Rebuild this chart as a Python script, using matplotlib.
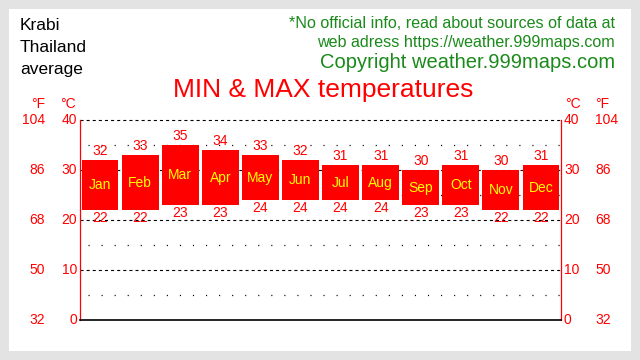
import numpy as np
import matplotlib
matplotlib.use("Agg")
import matplotlib.pyplot as plt
from matplotlib.patches import Rectangle
from matplotlib import transforms

plt.rcParams['font.family'] = ['Liberation Sans', 'DejaVu Sans']
plt.rcParams['lines.scale_dashes'] = False

months = ["Jan", "Feb", "Mar", "Apr", "May", "Jun",
          "Jul", "Aug", "Sep", "Oct", "Nov", "Dec"]
t_max = [32, 33, 35, 34, 33, 32, 31, 31, 30, 31, 30, 31]
t_min = [22, 22, 23, 23, 24, 24, 24, 24, 23, 23, 22, 22]
c_ticks = [0, 10, 20, 30, 40]
f_ticks = [32, 50, 68, 86, 104]
dotted_levels = [5, 15, 25, 35]

RED = '#ff0000'
GREEN = '#1a8a1a'

W, H = 640, 360
fig = plt.figure(figsize=(6.4, 3.6), dpi=100, facecolor='#e3e3e3')
fig.patches.append(Rectangle((9 / W, 9 / H), 622 / W, 342 / H,
                             transform=fig.transFigure, facecolor='white',
                             edgecolor='none', zorder=-5))

def fx(px):
    return px / W

def fy(py):
    return 1 - py / H

ax = fig.add_axes([fx(80), fy(320), (561 - 80) / W, (320 - 120.5) / H])
ax.set_facecolor('none')
ax.set_xlim(0, 12)
ax.set_ylim(0, 40)
ax.set_xticks([])
ax.set_yticks([])
for s in ['left', 'right']:
    ax.spines[s].set_color(RED)
    ax.spines[s].set_linewidth(0.9)
ax.spines['bottom'].set_color('black')
ax.spines['bottom'].set_linewidth(1.2)
ax.spines['top'].set_visible(False)

# grid lines
for lv in c_ticks[1:]:
    ax.axhline(lv, color='black', lw=0.8, dashes=(2.2, 2.2), zorder=1, clip_on=False)
for lv in dotted_levels:
    ax.plot([0.2, 12], [lv, lv], color='black', lw=0.9, dashes=(0.8, 8.6), zorder=1)

x = np.arange(len(months)) + 0.5
heights = np.array(t_max) - np.array(t_min)
ax.bar(x, heights, bottom=t_min, width=0.92, color=RED, zorder=3)

for xi, mx, mn, m in zip(x, t_max, t_min, months):
    ax.annotate(str(mx), (xi, mx), xytext=(0, 6.8), textcoords='offset points',
                ha='center', va='center', color=RED, fontsize=10)
    ax.annotate(str(mn), (xi, mn), xytext=(0, -5.6), textcoords='offset points',
                ha='center', va='center', color=RED, fontsize=10)
    ax.text(xi, (mx + mn) / 2, m, ha='center', va='center', color='#ffff00',
            fontsize=10, zorder=4)

# axis labels, celsius and fahrenheit on both sides
tr = transforms.blended_transform_factory(fig.transFigure, ax.transData)
for c, f in zip(c_ticks, f_ticks):
    fig.text(fx(77), c, str(c), transform=tr, ha='right', va='center', color=RED, fontsize=10)
    fig.text(fx(45), c, str(f), transform=tr, ha='right', va='center', color=RED, fontsize=10)
    fig.text(fx(564), c, str(c), transform=tr, ha='left', va='center', color=RED, fontsize=10)
    fig.text(fx(595), c, str(f), transform=tr, ha='left', va='center', color=RED, fontsize=10)

fig.text(fx(45), fy(104), "°F", ha='right', va='center', color=RED, fontsize=10)
fig.text(fx(76), fy(104), "°C", ha='right', va='center', color=RED, fontsize=10)
fig.text(fx(565), fy(104), "°C", ha='left', va='center', color=RED, fontsize=10)
fig.text(fx(595), fy(104), "°F", ha='left', va='center', color=RED, fontsize=10)

fig.text(fx(20), fy(30), "Krabi", ha='left', va='baseline', fontsize=12.5, color='black')
fig.text(fx(20), fy(52), "Thailand", ha='left', va='baseline', fontsize=12.5, color='black')
fig.text(fx(20), fy(74), "average", ha='left', va='baseline', fontsize=12.5, color='black')

fig.text(fx(615), fy(24), "*No official info, read about sources of data at",
         ha='right', va='center', fontsize=11.6, color=GREEN)
fig.text(fx(615), fy(42.5), "web adress https://weather.999maps.com",
         ha='right', va='center', fontsize=11.6, color=GREEN)
fig.text(fx(615), fy(63), "Copyright weather.999maps.com",
         ha='right', va='center', fontsize=14.5, color=GREEN)

fig.text(fx(323), fy(90), "MIN & MAX temperatures", ha='center', va='center',
         fontsize=19, color=RED)

fig.savefig("out.png", dpi=100, facecolor=fig.get_facecolor())
